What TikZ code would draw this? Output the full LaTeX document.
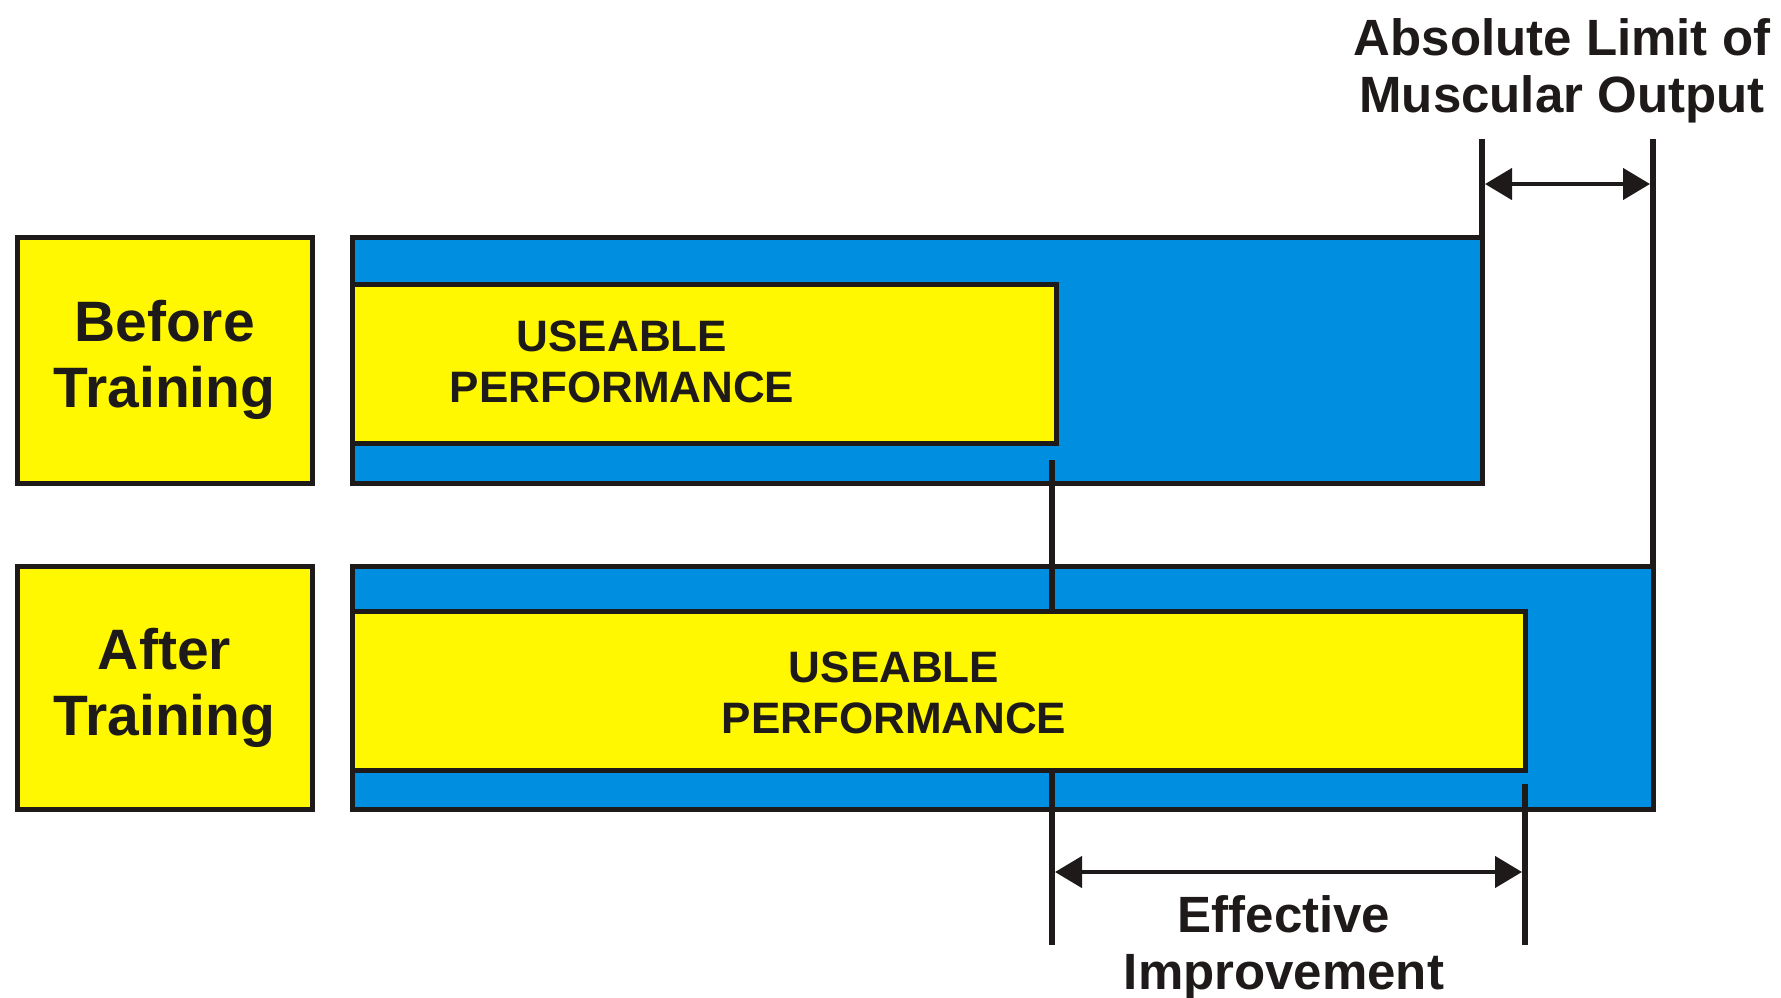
\documentclass[tikz,border=0pt]{standalone}
\usepackage{fontspec}
\setmainfont{Liberation Sans}
\usetikzlibrary{arrows.meta}
\definecolor{barblue}{RGB}{0,142,224}
\definecolor{baryellow}{RGB}{255,248,0}
\definecolor{ink}{RGB}{30,26,25}
\begin{document}
\begin{tikzpicture}[x=1pt,y=-1pt,
  frame/.style={draw=ink, line width=5pt, anchor=north west, inner sep=0pt, outer sep=0pt},
  labelbox/.style={frame, fill=baryellow, minimum width=295pt, minimum height=246pt,
    align=center, text=ink, font=\bfseries\fontsize{57}{66}\selectfont},
  bluebar/.style={frame, fill=barblue},
  yellowbar/.style={frame, fill=baryellow},
  bartext/.style={align=center, text=ink, font=\bfseries\fontsize{44}{51}\selectfont},
  notetext/.style={align=center, text=ink, font=\bfseries\fontsize{51}{57}\selectfont},
  tick/.style={draw=ink, line width=6pt},
  dimarrow/.style={draw=ink, line width=4.5pt,
    {Triangle[length=27pt,width=31pt]}-{Triangle[length=27pt,width=31pt]},
    shorten <=3pt, shorten >=3pt}]
  \useasboundingbox (0,0) rectangle (1781,997);
  \fill[white] (0,0) rectangle (1781,997);

  % row labels
  \node[labelbox] (before) at (17,237) {Before\\Training};
  \node[labelbox, minimum height=243pt] (after) at (17,566) {After\\Training};

  % full-capacity bars
  \node[bluebar, minimum width=1130pt, minimum height=246pt] (barA) at (352,237) {};
  \node[bluebar, minimum width=1301pt, minimum height=243pt] (barB) at (352,566) {};

  % limit markers and improvement markers
  \coordinate (ta) at (1482,139);
  \coordinate (tb) at (1653,139);
  \draw[tick] (ta) -- (barA.north east);
  \draw[tick] (tb) -- (barB.north east);
  \coordinate (v1top) at (1052,460);
  \coordinate (v1bot) at (1052,945);
  \coordinate (v2top) at (1525,784);
  \coordinate (v2bot) at (1525,945);
  \draw[tick] (v1top) -- (v1bot);
  \draw[tick] (v2top) -- (v2bot);

  % useable performance bars
  \node[yellowbar, minimum width=704pt, minimum height=159pt] (useA) at (352,284) {};
  \node[yellowbar, minimum width=1173pt, minimum height=159pt] (useB) at (352,611) {};
  \node[bartext] (useAtxt) at (622,362) {USEABLE\\PERFORMANCE};
  \node[bartext] (useBtxt) at (894,693) {USEABLE\\PERFORMANCE};

  % dimension arrows
  \coordinate (la) at (1482,184);
  \coordinate (lb) at (1653,184);
  \draw[dimarrow] (la) -- (lb);
  \coordinate (ea) at (1052,872);
  \coordinate (eb) at (1525,872);
  \draw[dimarrow] (ea) -- (eb);

  % annotations
  \node[notetext] (limit) at (1562,71) {Absolute Limit of\\Muscular Output};
  \node[notetext] (effect) at (1284,948) {Effective\\Improvement};
\end{tikzpicture}
\end{document}
